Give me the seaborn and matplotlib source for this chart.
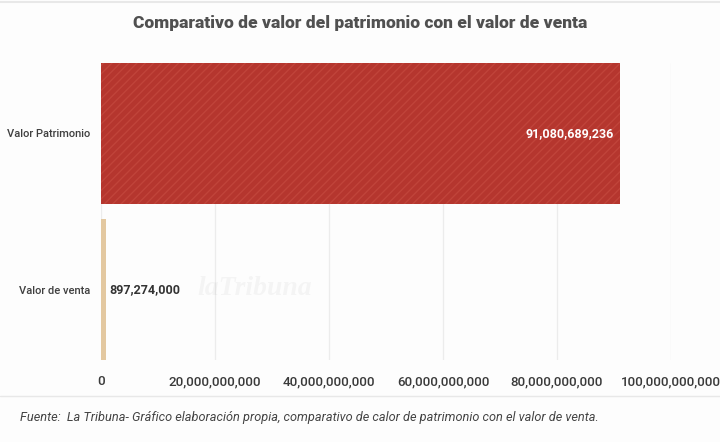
import matplotlib
matplotlib.use("Agg")
import matplotlib.pyplot as plt
import seaborn as sns
import pandas as pd
from matplotlib.ticker import FuncFormatter

# Datos del gráfico
categorias = ["Valor Patrimonio", "Valor de venta"]
valores = [91080689236, 897274000]
colores = ["#b5362e", "#e3c8a0"]
ticks_x = [0, 20e9, 40e9, 60e9, 80e9, 100e9]

df = pd.DataFrame({"categoria": categorias, "valor": valores})

sns.set_theme(style="white")
plt.rcParams['font.family'] = ['Roboto', 'DejaVu Sans']
plt.rcParams['hatch.linewidth'] = 1.0

fig = plt.figure(figsize=(7.2, 4.42), dpi=100)
fig.patch.set_facecolor("#fdfdfd")
ax = fig.add_axes([0.1403, 0.1855, 0.7917, 0.672])
ax.set_facecolor("#fdfdfd")

sns.barplot(data=df, x="valor", y="categoria", hue="categoria", palette=colores,
            saturation=1, width=0.9, legend=False, ax=ax, zorder=3, linewidth=0)

# rayado diagonal en la barra roja
barras = ax.patches
barras[0].set_hatch("////")
barras[0].set_edgecolor("#c0443a")
barras[0].set_linewidth(0)

ax.set_xlim(0, 100e9)
ax.set_ylim(1.45, -0.45)
ax.set_xticks(ticks_x)
ax.xaxis.set_major_formatter(FuncFormatter(lambda v, p: f"{int(v):,}"))
ax.grid(axis="x", color="#ececec", linewidth=0.9, zorder=0)
for s in ax.spines.values():
    s.set_visible(False)
ax.set_xlabel("")
ax.set_ylabel("")
ax.tick_params(axis="x", length=0, pad=11, labelsize=9.6, labelcolor="#3a3a3a")
ax.tick_params(axis="y", length=0, pad=8, labelsize=8, labelcolor="#3f3f3f")
for lab in ax.get_xticklabels():
    lab.set_fontweight("medium")
for lab in ax.get_yticklabels():
    lab.set_fontweight("medium")

# etiquetas de valor
ax.text(valores[0] - 1.2e9, 0, f"{valores[0]:,}", ha="right", va="center",
        color="white", fontsize=9, fontweight="bold", zorder=5)
ax.text(valores[1] + 0.5e9, 1, f"{valores[1]:,}", ha="left", va="center",
        color="#333333", fontsize=9, fontweight="bold", zorder=5)

# marca de agua
ax.text(0.27, 0.24, "laTribuna", transform=ax.transAxes, ha="center", va="center",
        fontsize=20, style="italic", fontweight="bold", color="#000000", alpha=0.035,
        family=["Liberation Serif", "DejaVu Serif"], zorder=1)

fig.text(0.5, 0.948, "Comparativo de valor del patrimonio con el valor de venta",
         ha="center", va="center", fontsize=12.5, fontweight="heavy", color="#505050")

# línea separadora y fuente
fig.add_artist(plt.Line2D([0, 1], [0.105, 0.105], color="#e8e8e8", linewidth=1))
fig.add_artist(plt.Line2D([0, 1], [0.995, 0.995], color="#e8e8e8", linewidth=1.5))
fig.text(0.028, 0.055,
         "Fuente:  La Tribuna- Gráfico elaboración propia, comparativo de calor de patrimonio con el valor de venta.",
         ha="left", va="center", fontsize=9.2, style="italic", color="#444444")

fig.savefig("out.png", dpi=100, facecolor=fig.get_facecolor())
